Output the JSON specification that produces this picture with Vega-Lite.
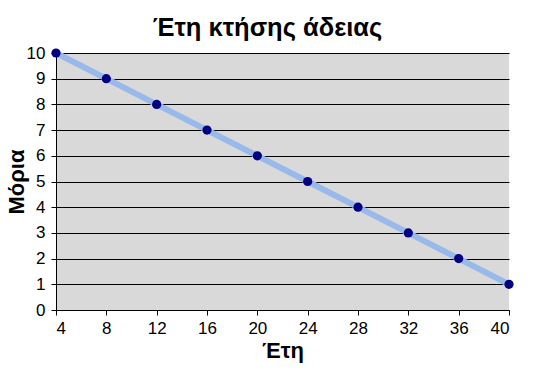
{
  "$schema": "https://vega.github.io/schema/vega-lite/v6.json",
  "width": 453,
  "height": 257,
  "autosize": "none",
  "padding": {"left": 56, "top": 53, "right": 26, "bottom": 60},
  "background": "white",
  "title": {"text": "Έτη κτήσης άδειας", "font": "Liberation Sans", "fontSize": 25.5, "fontWeight": "bold", "color": "black", "offset": 0, "dx": -15},
  "config": {
    "view": {"fill": "#D9D9D9", "stroke": null},
    "axis": {"labelFont": "Liberation Sans", "labelFontSize": 17, "labelColor": "black", "titleFont": "Liberation Sans", "titleFontSize": 22, "titleFontWeight": "bold", "titleColor": "black", "domainColor": "black", "tickColor": "black", "tickSize": 5, "gridColor": "black", "gridOpacity": 1, "gridWidth": 1}
  },
  "data": {"values": [
    {"years": 4, "points": 10},
    {"years": 8, "points": 9},
    {"years": 12, "points": 8},
    {"years": 16, "points": 7},
    {"years": 20, "points": 6},
    {"years": 24, "points": 5},
    {"years": 28, "points": 4},
    {"years": 32, "points": 3},
    {"years": 36, "points": 2},
    {"years": 40, "points": 1}
  ]},
  "encoding": {
    "x": {"field": "years", "type": "quantitative", "scale": {"domain": [4, 40], "nice": false, "zero": false}, "axis": {"title": "Έτη", "values": [4, 8, 12, 16, 20, 24, 28, 32, 36, 40], "grid": false, "labelPadding": 5, "titlePadding": 4}},
    "y": {"field": "points", "type": "quantitative", "scale": {"domain": [0, 10], "nice": false}, "axis": {"title": "Μόρια", "values": [0, 1, 2, 3, 4, 5, 6, 7, 8, 9, 10], "grid": true, "labelPadding": 6, "titlePadding": -2}}
  },
  "layer": [
    {"mark": {"type": "line", "color": "#99B9EA", "strokeWidth": 6}},
    {"mark": {"type": "circle", "color": "#000080", "size": 85, "opacity": 1}}
  ]
}
